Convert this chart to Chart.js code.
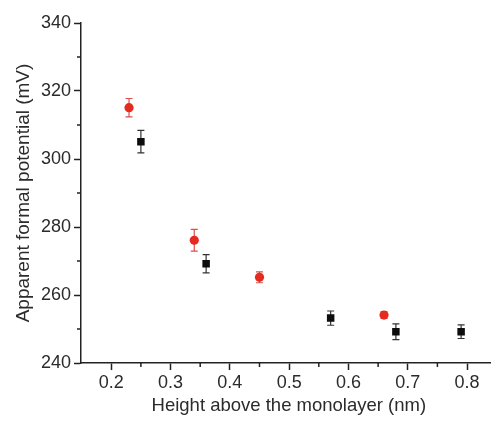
<!DOCTYPE html>
<html><head><meta charset="utf-8">
<script src="https://cdn.jsdelivr.net/npm/chart.js@4"></script>
<style>html,body{margin:0;padding:0;background:#fff;overflow:hidden}canvas{display:block}</style>
</head><body>
<canvas id="c" width="502" height="423"></canvas>
<script>
const redX = [0.23, 0.34, 0.45, 0.66];
const redY = [315.1, 276.1, 265.2, 254.1];
const redErr = [2.7, 3.2, 1.6, 1.0];
const blackX = [0.25, 0.36, 0.57, 0.68, 0.79];
const blackY = [305.1, 269.2, 253.2, 249.2, 249.2];
const blackErr = [3.3, 2.7, 2.1, 2.3, 2.0];
const xMajorTicks = [0.2, 0.3, 0.4, 0.5, 0.6, 0.7, 0.8];
const xMinorTicks = [0.25, 0.35, 0.45, 0.55, 0.65, 0.75];
const yMajorTicks = [240, 260, 280, 300, 320, 340];
const yMinorTicks = [250, 270, 290, 310, 330];
const xTitle = 'Height above the monolayer (nm)';
const yTitle = 'Apparent formal potential (mV)';

const AXIS = '#222';
const TEXT = '#2b2b2b';
const FONT = "'Liberation Sans', Arial, sans-serif";

const errorBars = {
  id: 'errorBars',
  beforeDatasetsDraw(chart) {
    const ctx = chart.ctx, xs = chart.scales.x, ys = chart.scales.y;
    chart.data.datasets.forEach(ds => {
      ctx.save();
      ctx.strokeStyle = ds.errColor;
      ctx.lineWidth = 1.2;
      ds.data.forEach((p, i) => {
        const e = ds.errors[i];
        const px = xs.getPixelForValue(p.x);
        const top = ys.getPixelForValue(p.y + e);
        const bot = ys.getPixelForValue(p.y - e);
        ctx.beginPath();
        ctx.moveTo(px, top); ctx.lineTo(px, bot);
        ctx.moveTo(px - 3.5, top); ctx.lineTo(px + 3.5, top);
        ctx.moveTo(px - 3.5, bot); ctx.lineTo(px + 3.5, bot);
        ctx.stroke();
      });
      ctx.restore();
    });
  }
};

const minorTicks = {
  id: 'minorTicks',
  afterDraw(chart) {
    const ctx = chart.ctx, xs = chart.scales.x, ys = chart.scales.y;
    const a = chart.chartArea;
    ctx.save();
    ctx.strokeStyle = AXIS;
    ctx.lineWidth = 1.5;
    ctx.beginPath();
    xMinorTicks.forEach(v => {
      const px = xs.getPixelForValue(v);
      ctx.moveTo(px, a.bottom); ctx.lineTo(px, a.bottom + 4);
    });
    yMinorTicks.forEach(v => {
      const py = ys.getPixelForValue(v);
      ctx.moveTo(a.left, py); ctx.lineTo(a.left - 4, py);
    });
    ctx.stroke();
    ctx.restore();
  }
};

new Chart(document.getElementById('c'), {
  type: 'scatter',
  data: {
    datasets: [
      {
        label: 'red',
        data: redX.map((x, i) => ({x, y: redY[i]})),
        errors: redErr,
        errColor: '#d8504a',
        pointStyle: 'circle',
        pointRadius: 4.6,
        pointBackgroundColor: '#e52a20',
        pointBorderColor: '#e52a20',
        pointBorderWidth: 0
      },
      {
        label: 'black',
        data: blackX.map((x, i) => ({x, y: blackY[i]})),
        errors: blackErr,
        errColor: '#333',
        pointStyle: 'rect',
        pointRadius: 5.3,
        pointBackgroundColor: '#0d0d0d',
        pointBorderColor: '#0d0d0d',
        pointBorderWidth: 0
      }
    ]
  },
  options: {
    responsive: false,
    devicePixelRatio: 1,
    animation: false,
    events: [],
    layout: { padding: { top: 23, right: 0, left: 0, bottom: 0 } },
    plugins: { legend: { display: false }, tooltip: { enabled: false } },
    scales: {
      x: {
        type: 'linear',
        min: 0.149,
        max: 0.85,
        afterBuildTicks: s => { s.ticks = xMajorTicks.map(v => ({value: v})); },
        afterFit: s => { s.height = 60; },
        grid: { drawOnChartArea: false, drawTicks: true, tickLength: 7, tickColor: AXIS, tickWidth: 1.5 },
        border: { display: true, color: AXIS, width: 1.5 },
        ticks: { color: TEXT, font: { family: FONT, size: 18 }, padding: 2, maxRotation: 0,
                 callback: v => v.toFixed(1) },
        title: { display: true, text: xTitle, color: TEXT, font: { family: FONT, size: 18.5 },
                 padding: { top: 0, bottom: 6 } }
      },
      y: {
        type: 'linear',
        min: 240,
        max: 340,
        afterBuildTicks: s => { s.ticks = yMajorTicks.map(v => ({value: v})); },
        afterFit: s => { s.width = 81; },
        grid: { drawOnChartArea: false, drawTicks: true, tickLength: 7, tickColor: AXIS, tickWidth: 1.5 },
        border: { display: true, color: AXIS, width: 1.5 },
        ticks: { color: TEXT, font: { family: FONT, size: 18 }, padding: 3,
                 callback: v => String(v) },
        title: { display: true, text: yTitle, color: TEXT, font: { family: FONT, size: 19 },
                 padding: { top: 12, bottom: 0 } }
      }
    }
  },
  plugins: [errorBars, minorTicks]
});
</script>
</body></html>
